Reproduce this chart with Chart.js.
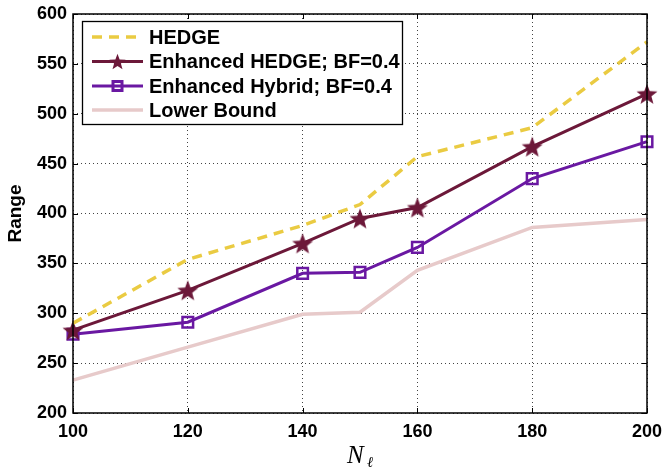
<!DOCTYPE html>
<html><head><meta charset="utf-8">
<script src="https://cdn.jsdelivr.net/npm/chart.js@4/dist/chart.umd.min.js"></script>
<style>html,body{margin:0;padding:0;background:#fff}#wrap{width:663px;height:468px}</style>
</head><body><div id="wrap"><canvas id="c" width="663" height="468"></canvas></div>
<script>
const nValues = [100, 120, 140, 150, 160, 180, 200];
const hedge = [290, 354, 388, 409, 457, 486, 572];
const enhancedHedge = [283, 323, 370, 395, 406, 467, 520];
const enhancedHybrid = [279, 291, 340, 341, 366, 435, 472];
const lowerBound = [233, 266, 299, 301, 343, 386, 394];
const xTicks = [100, 120, 140, 160, 180, 200];
const yTicks = [200, 250, 300, 350, 400, 450, 500, 550, 600];
const seriesNames = ['HEDGE', 'Enhanced HEDGE; BF=0.4', 'Enhanced Hybrid; BF=0.4', 'Lower Bound'];
const yTitle = 'Range';

const FONT = '"Liberation Sans", Arial, Helvetica, sans-serif';
const C_HEDGE = '#EACB42', C_EH = '#6C1839', C_HY = '#6A18A2', C_LB = '#E7CACA';

function makeStar(color, R) {
  const s = Math.ceil(R * 2 + 2);
  const cv = document.createElement('canvas'); cv.width = s; cv.height = s;
  const g = cv.getContext('2d');
  g.fillStyle = color; g.beginPath();
  for (let i = 0; i < 10; i++) {
    const r = i % 2 === 0 ? R : R * 0.42;
    const a = -Math.PI / 2 + i * Math.PI / 5;
    const px = s / 2 + r * Math.cos(a), py = s / 2 + r * Math.sin(a) + R * 0.1;
    i === 0 ? g.moveTo(px, py) : g.lineTo(px, py);
  }
  g.closePath(); g.fill();
  return cv;
}
const starImg = makeStar(C_EH, 11);
const starLegend = makeStar(C_EH, 8.5);

const toPts = arr => nValues.map((x, i) => ({ x, y: arr[i] }));

const datasets = [
  { label: seriesNames[0], data: toPts(hedge), borderColor: C_HEDGE, borderWidth: 3.5, borderDash: [10, 7], pointRadius: 0, order: 1 },
  { label: seriesNames[1], data: toPts(enhancedHedge), borderColor: C_EH, borderWidth: 3, pointStyle: starImg, pointRadius: 11, order: 2 },
  { label: seriesNames[2], data: toPts(enhancedHybrid), borderColor: C_HY, borderWidth: 3, pointStyle: 'rect', pointRadius: 7.5, pointBorderWidth: 2.5, pointBorderColor: C_HY, pointBackgroundColor: 'rgba(255,255,255,0)', order: 3 },
  { label: seriesNames[3], data: toPts(lowerBound), borderColor: C_LB, borderWidth: 3.5, pointRadius: 0, order: 4 }
];
datasets.forEach(d => { d.fill = false; d.tension = 0; d.clip = false; d.backgroundColor = d.borderColor; });

const framePlugin = {
  id: 'frame',
  afterDatasetsDraw(chart) {
    const { ctx, chartArea: a, scales: { x, y } } = chart;
    ctx.save();
    ctx.strokeStyle = '#000'; ctx.lineWidth = 1.5; ctx.setLineDash([]);
    ctx.strokeRect(a.left, a.top, a.right - a.left, a.bottom - a.top);
    ctx.lineWidth = 1;
    const L = 5;
    ctx.beginPath();
    xTicks.forEach(v => { const px = Math.round(x.getPixelForValue(v)) + 0.5; ctx.moveTo(px, a.bottom); ctx.lineTo(px, a.bottom - L); ctx.moveTo(px, a.top); ctx.lineTo(px, a.top + L); });
    yTicks.forEach(v => { const py = Math.round(y.getPixelForValue(v)) + 0.5; ctx.moveTo(a.left, py); ctx.lineTo(a.left + L, py); ctx.moveTo(a.right, py); ctx.lineTo(a.right - L, py); });
    ctx.stroke();
    // x axis title N_ell
    const cx = (a.left + a.right) / 2;
    ctx.fillStyle = '#000'; ctx.textBaseline = 'alphabetic'; ctx.textAlign = 'left';
    ctx.font = 'italic 25px "Liberation Serif", "DejaVu Serif", serif';
    ctx.fillText('N', cx - 13, 463);
    ctx.font = 'italic 15px "DejaVu Serif", "Liberation Serif", serif';
    ctx.fillText('ℓ', cx + 7, 467);
    ctx.restore();
  },
  afterDraw(chart) {
    const ctx = chart.ctx;
    ctx.save();
    const x0 = 82.5, y0 = 21.5, w = 320, h = 103;
    ctx.fillStyle = '#fff'; ctx.fillRect(x0, y0, w, h);
    ctx.strokeStyle = '#000'; ctx.lineWidth = 1.3; ctx.strokeRect(x0, y0, w, h);
    const rows = [37, 61.5, 86, 110];
    chart.data.datasets.forEach((d, i) => {
      const ry = rows[i];
      ctx.save();
      ctx.strokeStyle = d.borderColor; ctx.lineWidth = d.borderWidth;
      ctx.setLineDash(d.borderDash || []);
      ctx.beginPath(); ctx.moveTo(92, ry); ctx.lineTo(143, ry); ctx.stroke();
      ctx.setLineDash([]);
      if (d.pointStyle === 'rect') {
        ctx.lineWidth = 3; ctx.strokeStyle = d.pointBorderColor;
        ctx.strokeRect(117.5 - 4.5, ry - 4.5, 9, 9);
      } else if (d.pointStyle && typeof d.pointStyle === 'object') {
        ctx.drawImage(starLegend, 117.5 - starLegend.width / 2, ry - starLegend.height / 2);
      }
      ctx.restore();
      ctx.fillStyle = '#000'; ctx.font = 'bold 20px ' + FONT; ctx.textBaseline = 'middle'; ctx.textAlign = 'left';
      ctx.fillText(d.label, 149, ry + 1);
    });
    ctx.restore();
  }
};

const zeroPad = s => { s.paddingLeft = 0; s.paddingRight = 0; s.paddingTop = 0; s.paddingBottom = 0; };

new Chart(document.getElementById('c'), {
  type: 'line',
  data: { datasets },
  options: {
    responsive: false, animation: false,
    layout: { padding: { left: 0, right: 16, top: 12, bottom: 0 } },
    plugins: { legend: { display: false }, tooltip: { enabled: false } },
    scales: {
      x: {
        type: 'linear', min: 100, max: 200,
        afterBuildTicks: s => { s.ticks = xTicks.map(v => ({ value: v })); },
        afterFit: s => { s.height = 55; zeroPad(s); },
        ticks: { color: '#000', font: { family: FONT, size: 18, weight: 'bold' }, padding: 8, maxRotation: 0 },
        grid: { color: '#444', lineWidth: 1, drawTicks: false },
        border: { display: false, dash: [1, 3] },
        title: { display: false }
      },
      y: {
        min: 200, max: 600,
        afterBuildTicks: s => { s.ticks = yTicks.map(v => ({ value: v })); },
        afterFit: s => { s.width = 73; zeroPad(s); },
        ticks: { color: '#000', font: { family: FONT, size: 18, weight: 'bold' }, padding: 6 },
        grid: { color: '#444', lineWidth: 1, drawTicks: false },
        border: { display: false, dash: [1, 3] },
        title: { display: true, text: yTitle, color: '#000', font: { family: FONT, size: 19, weight: 'bold' }, padding: { top: 4.5, bottom: 0 } }
      }
    }
  },
  plugins: [framePlugin]
});
</script>
</body></html>
